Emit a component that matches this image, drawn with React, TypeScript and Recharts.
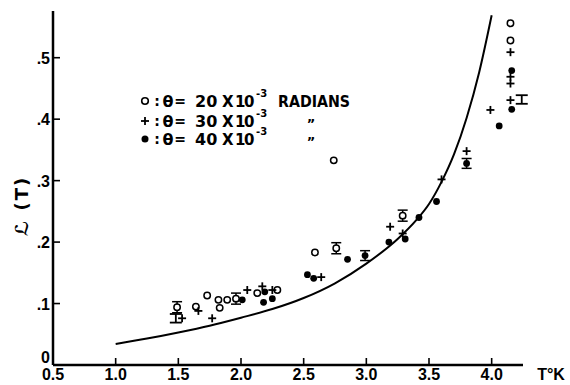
import React from "react";
import { ComposedChart, Line, Scatter, XAxis, YAxis, ErrorBar } from "recharts";

// axes
const xTicks = [0.5, 1.0, 1.5, 2.0, 2.5, 3.0, 3.5, 4.0];
const yTicks = [0, 0.1, 0.2, 0.3, 0.4, 0.5];

// theoretical curve
const curveT = [1.0, 1.25, 1.5, 1.75, 2.0, 2.25, 2.5, 2.75, 3.0, 3.25, 3.4, 3.5, 3.6, 3.7, 3.8, 3.9, 4.0];
const curveL = [0.034, 0.043, 0.053, 0.064, 0.077, 0.091, 0.109, 0.133, 0.165, 0.205, 0.236, 0.262, 0.298, 0.343, 0.402, 0.476, 0.569];

// theta = 20e-3 (open circles)
const openT = [1.64, 1.73, 1.82, 1.83, 1.89, 2.13, 2.29, 2.59, 2.74, 4.15, 4.15];
const openL = [0.095, 0.113, 0.106, 0.093, 0.106, 0.117, 0.122, 0.183, 0.333, 0.556, 0.528];
const openErrT = [1.49, 1.96, 2.76, 3.29];
const openErrL = [0.094, 0.108, 0.19, 0.243];
const openErr = [0.009, 0.009, 0.009, 0.009];

// theta = 30e-3 (plus)
const plusT = [1.53, 1.66, 1.77, 2.05, 2.17, 2.25, 2.64, 3.19, 3.29, 3.6, 3.8, 3.99, 4.15, 4.15, 4.15, 4.15];
const plusL = [0.076, 0.088, 0.076, 0.122, 0.128, 0.122, 0.143, 0.225, 0.214, 0.302, 0.348, 0.415, 0.509, 0.469, 0.458, 0.431];

// theta = 40e-3 (filled circles)
const fillT = [2.01, 2.18, 2.19, 2.25, 2.53, 2.58, 2.85, 3.18, 3.31, 3.42, 3.56, 4.06, 4.16, 4.16];
const fillL = [0.106, 0.102, 0.119, 0.108, 0.147, 0.141, 0.172, 0.2, 0.205, 0.24, 0.266, 0.389, 0.479, 0.416];
const fillErrT = [2.99, 3.8];
const fillErrL = [0.178, 0.328];
const fillErr = [0.008, 0.008];

// bare error bars
const barT = [1.48, 4.24];
const barL = [0.076, 0.432];
const barErr = [0.007, 0.007];

// legend
const legendVals = ["20", "30", "40"];
const legendTail = ["RADIANS", "\u201D", "\u201D"];

const zip = (t: number[], l: number[], e?: number[]) =>
  t.map((T, i) => ({ T, L: l[i], err: e ? e[i] : 0 }));

const curve = zip(curveT, curveL);
const openPts = zip(openT, openL);
const openErrPts = zip(openErrT, openErrL, openErr);
const plusPts = zip(plusT, plusL);
const fillPts = zip(fillT, fillL);
const fillErrPts = zip(fillErrT, fillErrL, fillErr);
const barPts = zip(barT, barL, barErr);

const tickFont = "'Liberation Sans', Arial, sans-serif";
const labFont = "'DejaVu Sans', sans-serif";

const OpenDot = (p: any) => (
  <circle cx={p.cx} cy={p.cy} r={3.2} fill="#fff" stroke="#000" strokeWidth={1.5} />
);
const FillDot = (p: any) => <circle cx={p.cx} cy={p.cy} r={3.4} fill="#000" />;
const Plus = (p: any) => (
  <g stroke="#000" strokeWidth={1.8}>
    <line x1={p.cx - 4} x2={p.cx + 4} y1={p.cy} y2={p.cy} />
    <line x1={p.cx} x2={p.cx} y1={p.cy - 4} y2={p.cy + 4} />
  </g>
);
const NoMark = () => <g />;

const XTick = ({ x, y, payload }: any) => (
  <g>
    {payload.value > 0.5 && (
      <line x1={x} x2={x} y1={y} y2={y - 7} stroke="#000" strokeWidth={1.6} />
    )}
    <text x={x} y={y + 15} textAnchor="middle" fontFamily={tickFont} fontWeight="bold" fontSize={16}>
      {payload.value.toFixed(1)}
    </text>
  </g>
);

const YTick = ({ x, y, payload }: any) => (
  <g>
    {payload.value > 0 && (
      <line x1={x} x2={x + 7} y1={y} y2={y} stroke="#000" strokeWidth={1.6} />
    )}
    <text
      x={x - 3}
      y={payload.value === 0 ? y - 2 : y + 6}
      textAnchor="end"
      fontFamily={tickFont}
      fontWeight="bold"
      fontSize={16}
    >
      {payload.value === 0 ? "0" : payload.value.toFixed(1).replace("0.", ".")}
    </text>
  </g>
);

const rowY = [101, 121, 139];

const Overlay = () => (
  <svg
    width={570}
    height={385}
    style={{ position: "absolute", left: 0, top: 0, pointerEvents: "none" }}
  >
    <g fontFamily={labFont} fontWeight="bold">
      <circle cx={145} cy={101} r={3.3} fill="none" stroke="#000" strokeWidth={1.6} />
      <Plus cx={145} cy={121} />
      <circle cx={145} cy={139} r={3.5} fill="#000" />
      {rowY.map((y, i) => (
        <g key={i}>
          <text x={157} y={y + 5} textAnchor="middle" fontSize={14}>:</text>
          <text x={168} y={y + 6} textAnchor="middle" fontSize={16}>θ</text>
          <text x={180} y={y + 5} textAnchor="middle" fontSize={14}>=</text>
          <text x={195} y={y + 6} fontSize={16}>{legendVals[i]}</text>
          <text x={222} y={y + 6} fontSize={15}>X</text>
          <text x={235} y={y + 6} fontSize={15} letterSpacing={-1.5}>10</text>
          <text x={256} y={y - 4} fontSize={10}>-3</text>
          {i === 0 ? (
            <text x={278} y={y + 6} fontSize={16} textLength={72} lengthAdjust="spacingAndGlyphs">
              {legendTail[i]}
            </text>
          ) : (
            <text x={311} y={y + 7} textAnchor="middle" fontSize={13}>{legendTail[i]}</text>
          )}
        </g>
      ))}
      <text
        transform="translate(28,206) rotate(-90)"
        textAnchor="middle"
        fontSize={18}
        letterSpacing={2}
      >
        ℒ (T)
      </text>
    </g>
    <text x={551} y={380} textAnchor="middle" fontFamily={tickFont} fontWeight="bold" fontSize={16}>
      T°K
    </text>
  </svg>
);

export default function App() {
  return (
    <div style={{ position: "absolute", left: 0, top: 0, width: 570, height: 385, background: "#fff" }}>
      <ComposedChart
        width={570}
        height={385}
        margin={{ top: 11, right: 47, bottom: 0, left: 13 }}
      >
        <XAxis
          type="number"
          dataKey="T"
          domain={[0.5, 4.25]}
          ticks={xTicks}
          height={20}
          allowDataOverflow
          axisLine={{ stroke: "#000", strokeWidth: 2.5 }}
          tickLine={false}
          tickSize={0}
          tickMargin={0}
          tick={<XTick />}
        />
        <YAxis
          type="number"
          dataKey="L"
          domain={[0, 0.576]}
          ticks={yTicks}
          width={40}
          allowDataOverflow
          axisLine={{ stroke: "#000", strokeWidth: 2.5 }}
          tickLine={false}
          tickSize={0}
          tickMargin={0}
          tick={<YTick />}
        />
        <Line
          data={curve}
          dataKey="L"
          type="monotone"
          dot={false}
          stroke="#000"
          strokeWidth={2}
          isAnimationActive={false}
        />
        <Scatter data={openPts} dataKey="L" shape={OpenDot} isAnimationActive={false} />
        <Scatter data={openErrPts} dataKey="L" shape={OpenDot} isAnimationActive={false}>
          <ErrorBar dataKey="err" direction="y" width={5} stroke="#000" strokeWidth={1.5} />
        </Scatter>
        <Scatter data={plusPts} dataKey="L" shape={Plus} isAnimationActive={false} />
        <Scatter data={fillPts} dataKey="L" shape={FillDot} isAnimationActive={false} />
        <Scatter data={fillErrPts} dataKey="L" shape={FillDot} isAnimationActive={false}>
          <ErrorBar dataKey="err" direction="y" width={5} stroke="#000" strokeWidth={1.5} />
        </Scatter>
        <Scatter data={barPts} dataKey="L" shape={NoMark} isAnimationActive={false}>
          <ErrorBar dataKey="err" direction="y" width={6} stroke="#000" strokeWidth={1.8} />
        </Scatter>
      </ComposedChart>
      <Overlay />
    </div>
  );
}
